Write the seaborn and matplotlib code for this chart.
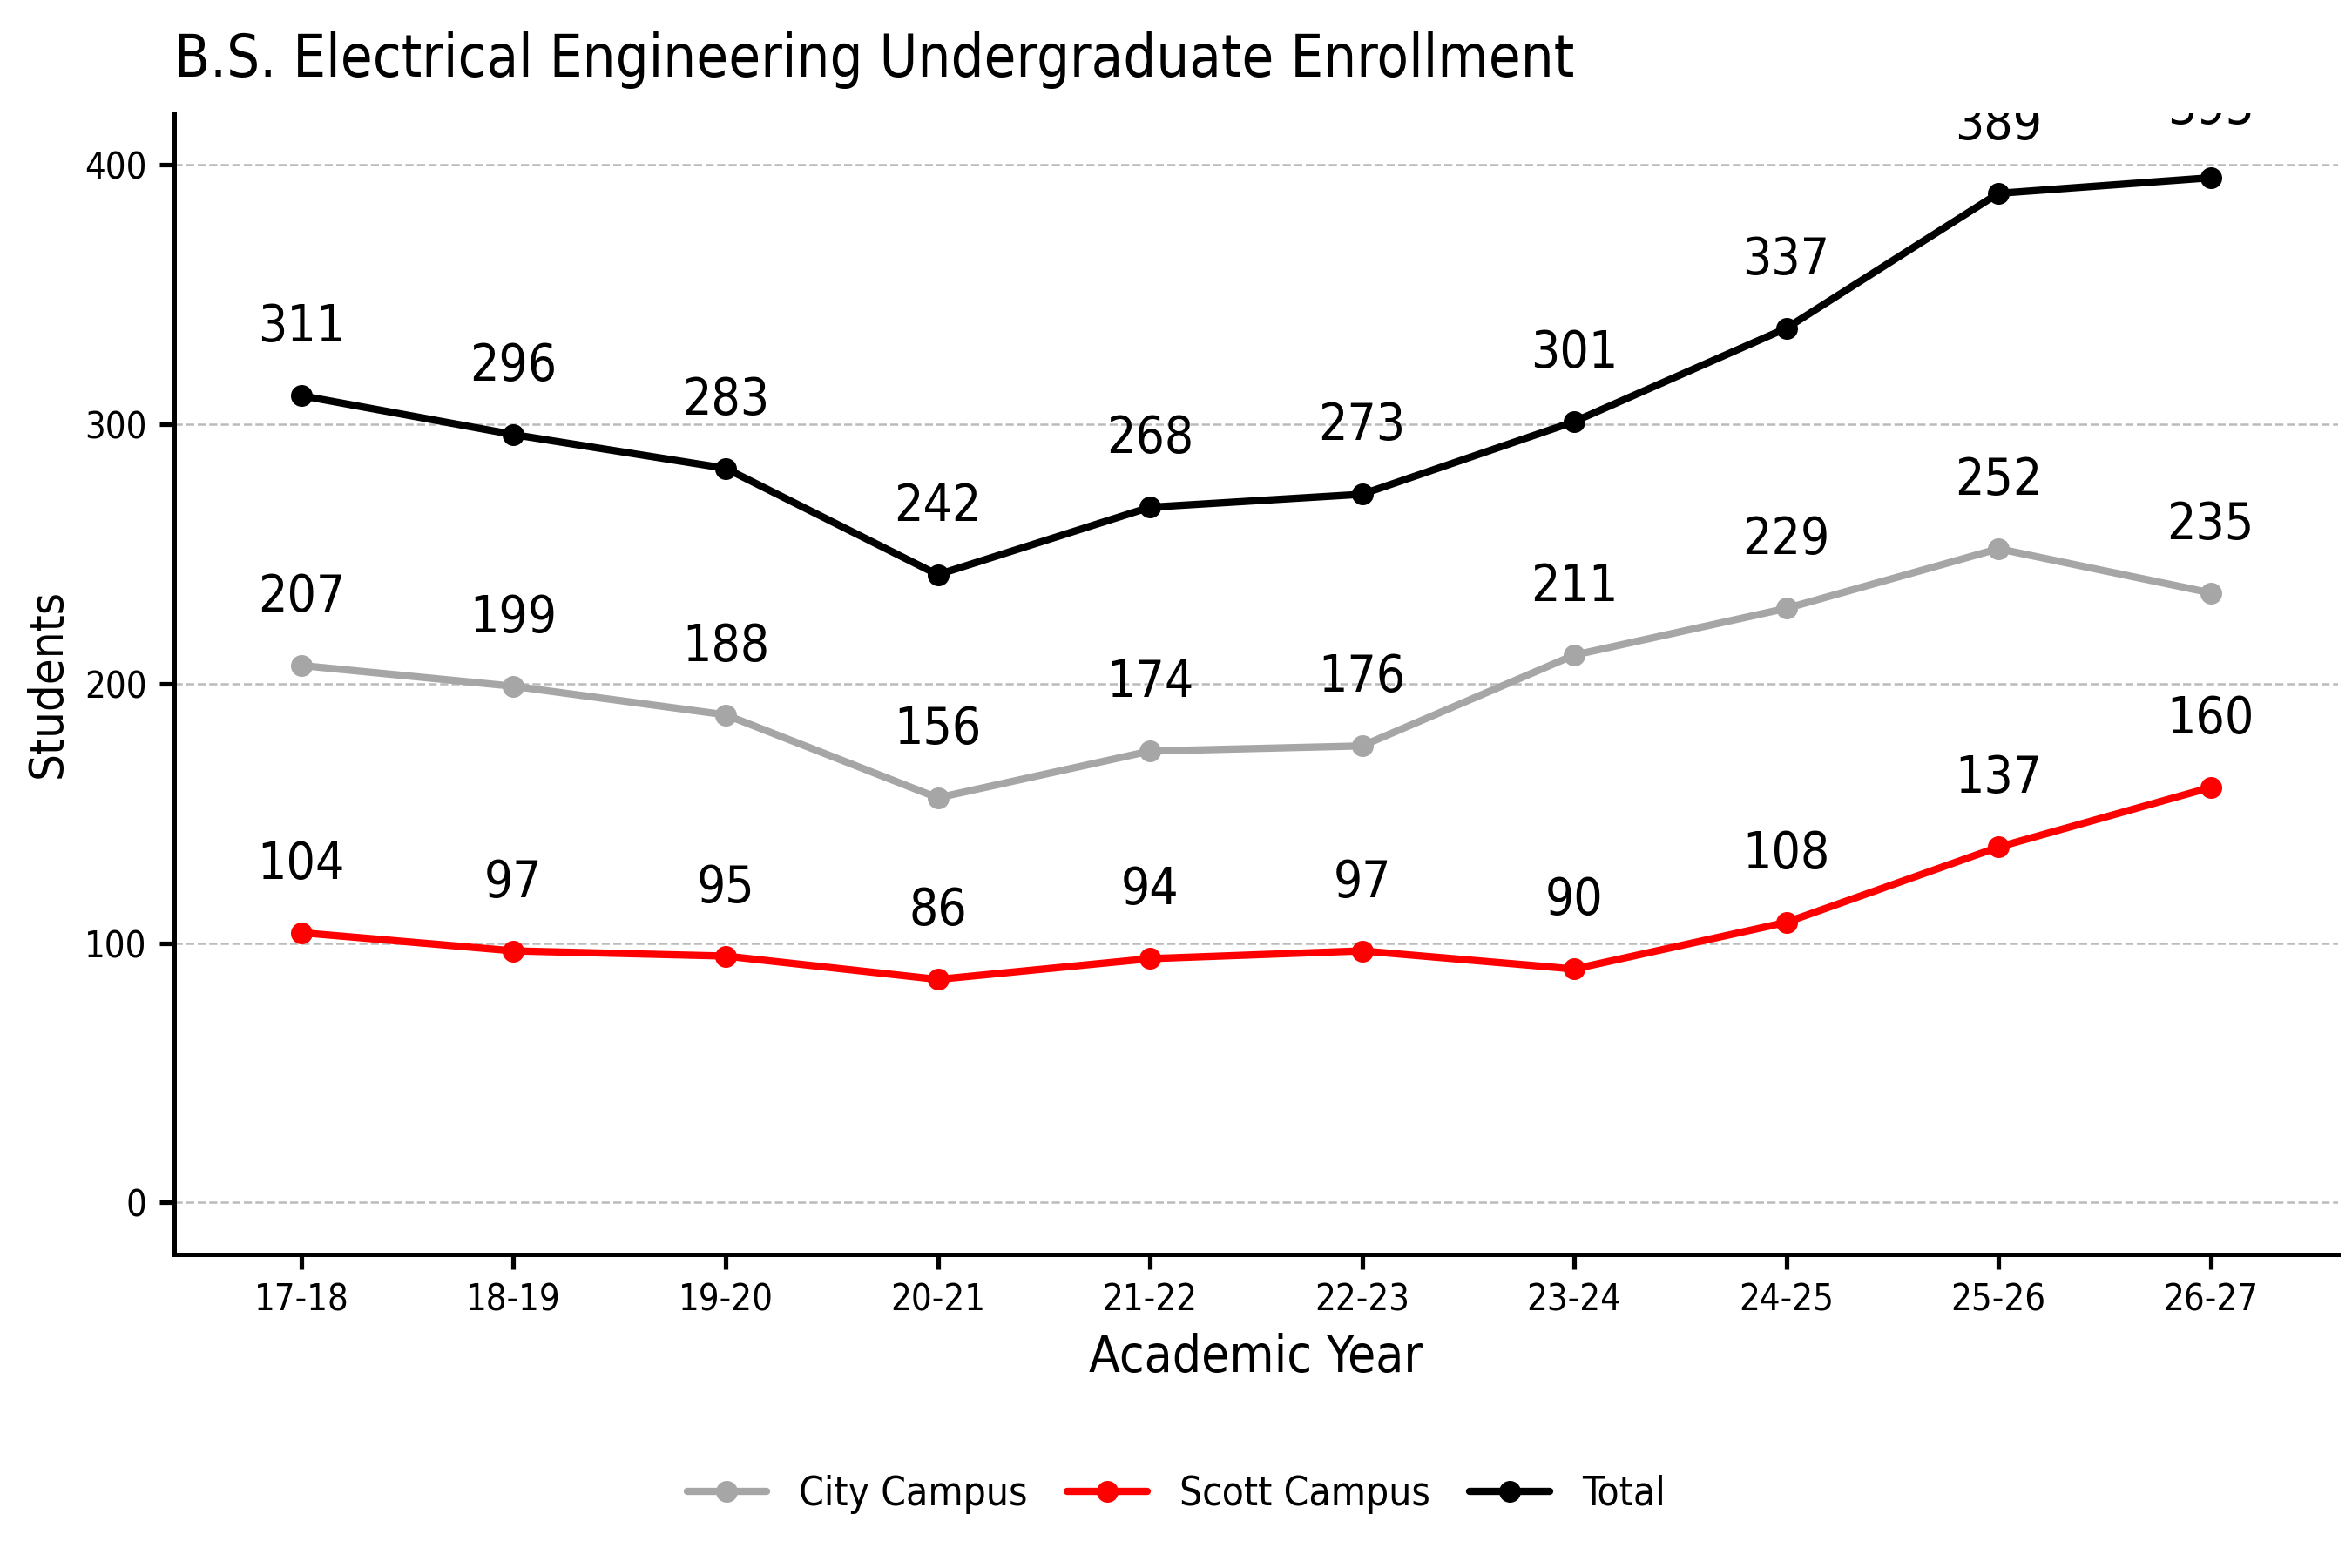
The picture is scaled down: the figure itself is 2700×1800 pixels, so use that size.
import matplotlib
matplotlib.use("Agg")
import matplotlib.pyplot as plt
import seaborn as sns
import pandas as pd

years = ["17-18","18-19","19-20","20-21","21-22","22-23","23-24","24-25","25-26","26-27"]
city = [207,199,188,156,174,176,211,229,252,235]
scott = [104,97,95,86,94,97,90,108,137,160]
total = [311,296,283,242,268,273,301,337,389,395]

sns.set_theme(style="white")
plt.rcParams['font.family'] = ['DejaVu Sans']
plt.rcParams['font.stretch'] = 'condensed'
plt.rcParams['text.color'] = 'black'
plt.rcParams['axes.labelcolor'] = 'black'
plt.rcParams['xtick.color'] = 'black'
plt.rcParams['ytick.color'] = 'black'

df = pd.DataFrame({"Academic Year": years*3,
                   "Students": city+scott+total,
                   "Series": ["City Campus"]*10+["Scott Campus"]*10+["Total"]*10})
palette = {"City Campus": "#a6a6a6", "Scott Campus": "#ff0000", "Total": "#000000"}

fig = plt.figure(figsize=(9, 6), dpi=300)
ax = fig.add_axes([0.074, 0.2, 0.92, 0.728])
sns.lineplot(data=df, x="Academic Year", y="Students", hue="Series", palette=palette,
             marker="o", markersize=6, markeredgewidth=0, linewidth=2, ax=ax, sort=False)
for s, vals in [("City Campus", city), ("Scott Campus", scott), ("Total", total)]:
    for i, v in enumerate(vals):
        ax.annotate(str(v), (i, v), xytext=(0, 12), textcoords="offset points",
                    ha="center", va="bottom", fontsize=14, color="black",
                    annotation_clip=False, clip_on=True)
ax.set_ylim(-20, 420)
ax.set_xlim(-0.6, 9.6)
ax.set_yticks([0, 100, 200, 300, 400])
ax.yaxis.grid(True, linestyle="--", color="#bbbbbb", linewidth=0.6)
ax.set_axisbelow(True)
for sp in ["top", "right"]:
    ax.spines[sp].set_visible(False)
for sp in ["left", "bottom"]:
    ax.spines[sp].set_color("black")
    ax.spines[sp].set_linewidth(1.2)
ax.tick_params(axis="both", which="both", length=4, color="black", labelsize=10, bottom=True, left=True)
ax.set_xlabel("Academic Year", fontsize=14)
ax.set_ylabel("Students", fontsize=13)
ax.set_title("B.S. Electrical Engineering Undergraduate Enrollment", loc="left", fontsize=16, pad=10)
h, l = ax.get_legend_handles_labels()
ax.legend(h, l, loc="center", bbox_to_anchor=(0.5, 0.047), bbox_transform=fig.transFigure,
          ncol=3, frameon=False, fontsize=11, handlelength=2, columnspacing=1)
fig.savefig("out.png", dpi=300)
